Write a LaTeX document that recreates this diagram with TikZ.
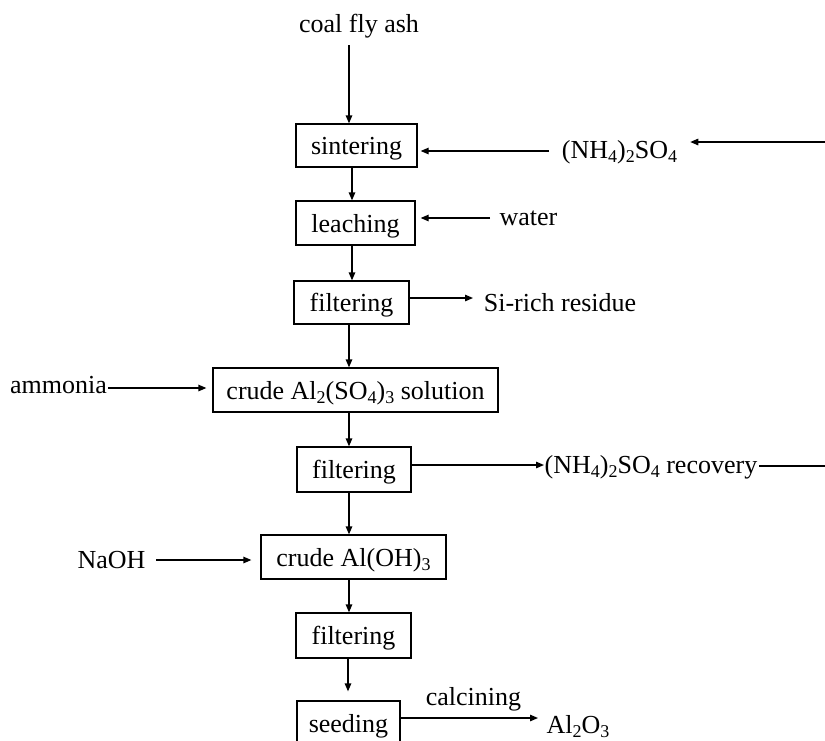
\documentclass[tikz,border=0pt]{standalone}
\usepackage{fontspec}
\setmainfont{Liberation Serif}
\usetikzlibrary{arrows.meta}
\newcommand{\subdig}[1]{\raisebox{-4.5pt}{\fontsize{18}{18}\selectfont #1}}
\begin{document}
\begin{tikzpicture}[x=1pt,y=-1pt,
  every node/.style={font=\fontsize{26}{31}\selectfont},
  box/.style={draw, line width=1.3pt, minimum height=44pt, inner sep=0pt, text height=21pt, text depth=3pt},
  lbl/.style={inner sep=0pt, anchor=base},
  arr/.style={line width=1.3pt, -{Triangle[length=8pt,width=6.5pt]}},
  ln/.style={line width=1.3pt}]
\useasboundingbox (0,0) rectangle (825,740);
\clip (0,0) rectangle (825,740);

% boxes
\node[box, minimum width=121pt, minimum height=43pt] (sinter) at (356.5,145.5) {sintering};
\node[box, minimum width=119pt] (leach) at (355.5,223) {leaching};
\node[box, minimum width=115pt, minimum height=43pt] (filt1) at (351.5,302.5) {filtering};
\node[box, minimum width=285pt] (crude) at (355.5,390) {crude Al\subdig{2}(SO\subdig{4})\subdig{3} solution};
\node[box, minimum width=114pt, minimum height=45pt] (filt2) at (354,469.5) {filtering};
\node[box, minimum width=185pt] (aloh) at (353.5,557) {crude Al(OH)\subdig{3}};
\node[box, minimum width=115pt, minimum height=45pt] (filt3) at (353.5,635.5) {filtering};
\node[box, minimum width=103pt] (seed) at (348.5,723) {seeding};

% labels
\node[lbl] (coal) at (359,32) {coal fly ash};
\node[lbl] (nh1) at (619.5,158) {(NH\subdig{4})\subdig{2}SO\subdig{4}};
\node[lbl] (water) at (528.5,225) {water};
\node[lbl] (si) at (560,311) {Si-rich residue};
\node[lbl] (amm) at (58.5,393) {ammonia};
\node[lbl] (rec) at (651,473) {(NH\subdig{4})\subdig{2}SO\subdig{4} recovery};
\node[lbl] (naoh) at (111.5,568) {NaOH};
\node[lbl] (calc) at (473.5,705) {calcining};
\node[lbl] (alo) at (578,733) {Al\subdig{2}O\subdig{3}};

% axis coordinates
\coordinate (ax) at (349,0);
\coordinate (axb) at (352,0);
\coordinate (axc) at (348,0);
\coordinate (c0) at (349,45);

% vertical flow
\draw[arr] (c0) -- (sinter.north -| c0);
\draw[arr] (sinter.south -| axb) -- (leach.north -| axb);
\draw[arr] (leach.south -| axb) -- (filt1.north -| axb);
\draw[arr] (filt1.south -| ax) -- (crude.north -| ax);
\draw[arr] (crude.south -| ax) -- (filt2.north -| ax);
\draw[arr] (filt2.south -| ax) -- (aloh.north -| ax);
\draw[arr] (aloh.south -| ax) -- (filt3.north -| ax);
\draw[arr, shorten >=9pt] (filt3.south -| axc) -- (seed.north -| axc);

% horizontal connectors
\coordinate (rt1) at (825,142);
\draw[arr, shorten >=13pt] (rt1) -- (nh1.east |- rt1);
\coordinate (a1) at (549,151);
\draw[arr, shorten >=3pt] (a1) -- (sinter.east |- a1);
\coordinate (a2) at (490,218);
\draw[arr, shorten >=5pt] (a2) -- (leach.east |- a2);
\coordinate (a3) at (473,298);
\draw[arr] (filt1.east |- a3) -- (a3);
\coordinate (a4) at (108,388);
\draw[arr, shorten >=6pt] (a4) -- (crude.west |- a4);
\coordinate (a5) at (544,465);
\draw[arr] (filt2.east |- a5) -- (a5);
\coordinate (rt2) at (825,466);
\draw[ln, shorten <=2pt] (rec.east |- rt2) -- (rt2);
\coordinate (a6) at (156,560);
\draw[arr, shorten >=9pt] (a6) -- (aloh.west |- a6);
\coordinate (a7) at (538,718);
\draw[arr] (seed.east |- a7) -- (a7);
\end{tikzpicture}
\end{document}
